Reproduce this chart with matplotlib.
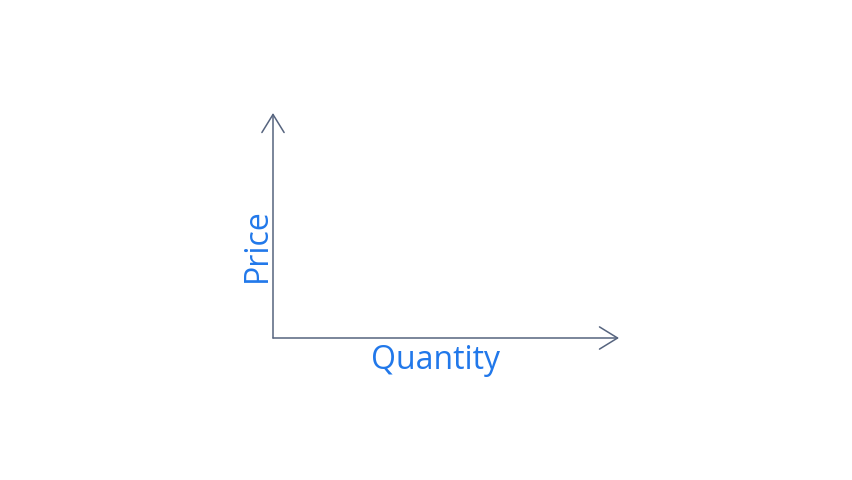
import matplotlib.pyplot as plt

# Axis labels
x_label = 'Quantity'
y_label = 'Price'

line_color = '#56647f'
text_color = '#2178ea'

fig = plt.figure(figsize=(8.52, 4.80), dpi=100)
fig.patch.set_facecolor('white')

# Axes placed so the origin sits at the corner of the two arrows
ax = fig.add_axes([273 / 852, (480 - 338) / 480, 346 / 852, 225 / 480])
ax.set_xlim(0, 1)
ax.set_ylim(0, 1)
for s in ax.spines.values():
    s.set_visible(False)
ax.set_xticks([])
ax.set_yticks([])
ax.patch.set_alpha(0)

# Axis arrows (open chevron heads)
arrow = dict(arrowstyle='->,head_length=1.3,head_width=0.8', color=line_color, lw=1.1,
             shrinkA=0, shrinkB=0)
ax.annotate('', xy=(1, 0), xytext=(0, 0), xycoords='axes fraction', arrowprops=arrow,
            annotation_clip=False)
ax.annotate('', xy=(0, 1), xytext=(0, 0), xycoords='axes fraction', arrowprops=arrow,
            annotation_clip=False)

ax.set_xlabel(x_label, fontsize=23, color=text_color, family='Open Sans')
ax.set_ylabel(y_label, fontsize=23, color=text_color, family='Open Sans')
ax.xaxis.set_label_coords(0.471, -0.098)
ax.yaxis.set_label_coords(-0.045, 0.413)
ax.xaxis.label.set_va('center')
ax.yaxis.label.set_va('center')

fig.savefig('out.png', dpi=100, facecolor='white')
